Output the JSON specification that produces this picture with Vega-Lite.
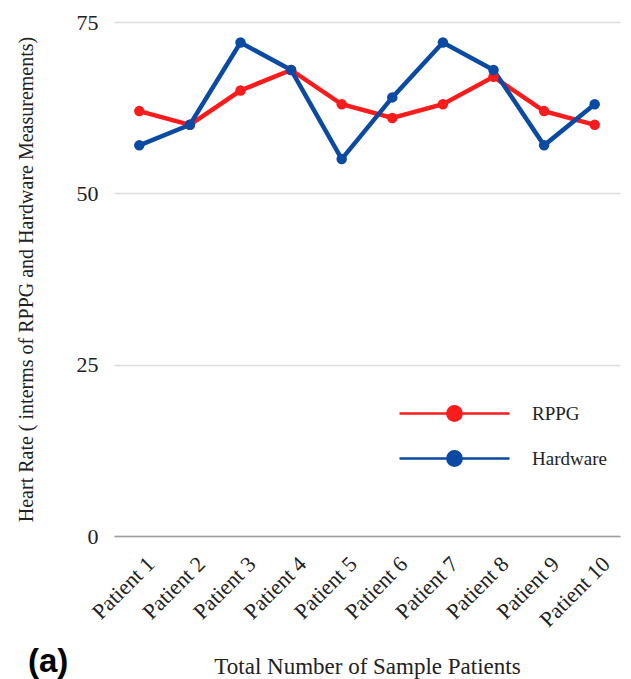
{
  "$schema": "https://vega.github.io/schema/vega-lite/v6.json",
  "width": 506,
  "height": 514,
  "autosize": {"type": "none"},
  "padding": {"left": 114, "top": 22, "right": 11, "bottom": 143},
  "background": "white",
  "title": {
    "text": "(a)",
    "orient": "bottom",
    "anchor": "start",
    "frame": "bounds",
    "offset": -33,
    "dx": 12,
    "font": "Liberation Sans",
    "fontSize": 33,
    "fontWeight": "bold",
    "color": "#000000"
  },
  "data": {
    "values": [
      {"patient": "Patient 1", "series": "RPPG", "hr": 62},
      {"patient": "Patient 2", "series": "RPPG", "hr": 60},
      {"patient": "Patient 3", "series": "RPPG", "hr": 65},
      {"patient": "Patient 4", "series": "RPPG", "hr": 68},
      {"patient": "Patient 5", "series": "RPPG", "hr": 63},
      {"patient": "Patient 6", "series": "RPPG", "hr": 61},
      {"patient": "Patient 7", "series": "RPPG", "hr": 63},
      {"patient": "Patient 8", "series": "RPPG", "hr": 67},
      {"patient": "Patient 9", "series": "RPPG", "hr": 62},
      {"patient": "Patient 10", "series": "RPPG", "hr": 60},
      {"patient": "Patient 1", "series": "Hardware", "hr": 57},
      {"patient": "Patient 2", "series": "Hardware", "hr": 60},
      {"patient": "Patient 3", "series": "Hardware", "hr": 72},
      {"patient": "Patient 4", "series": "Hardware", "hr": 68},
      {"patient": "Patient 5", "series": "Hardware", "hr": 55},
      {"patient": "Patient 6", "series": "Hardware", "hr": 64},
      {"patient": "Patient 7", "series": "Hardware", "hr": 72},
      {"patient": "Patient 8", "series": "Hardware", "hr": 68},
      {"patient": "Patient 9", "series": "Hardware", "hr": 57},
      {"patient": "Patient 10", "series": "Hardware", "hr": 63}
    ]
  },
  "config": {
    "view": {"stroke": null},
    "font": "Liberation Serif"
  },
  "encoding": {
    "x": {
      "field": "patient",
      "type": "ordinal",
      "sort": null,
      "scale": {"type": "point", "padding": 0.5},
      "axis": {
        "title": "Total Number of Sample Patients",
        "titleFont": "Liberation Serif",
        "titleFontSize": 23,
        "titleFontWeight": "normal",
        "titleColor": "#222222",
        "titlePadding": 25,
        "labelAngle": -45,
        "labelFont": "Liberation Serif",
        "labelFontSize": 22,
        "labelColor": "#222222",
        "labelPadding": 17,
        "labelOffset": 4,
        "ticks": false,
        "domainColor": "#9e9e9e",
        "domainWidth": 1.5,
        "grid": false
      }
    },
    "y": {
      "field": "hr",
      "type": "quantitative",
      "scale": {"domain": [0, 75], "nice": false},
      "axis": {
        "values": [0, 25, 50, 75],
        "title": "Heart Rate ( interms of RPPG and Hardware Measurements)",
        "titleFont": "Liberation Serif",
        "titleFontSize": 20,
        "titleFontWeight": "normal",
        "titleColor": "#222222",
        "titlePadding": 40,
        "labelFont": "Liberation Serif",
        "labelFontSize": 22,
        "labelColor": "#222222",
        "labelPadding": 16,
        "ticks": false,
        "domain": false,
        "gridColor": "#dcdcdc",
        "gridWidth": 1.5
      }
    },
    "color": {
      "field": "series",
      "type": "nominal",
      "sort": ["RPPG", "Hardware"],
      "scale": {"domain": ["RPPG", "Hardware"], "range": ["#fa1c1c", "#0b4aa2"]},
      "legend": {
        "title": null,
        "orient": "none",
        "legendX": 331,
        "legendY": 382,
        "padding": 0,
        "symbolType": "M-10,0H10M-1.3,0A1.3,1.3,0,1,0,1.3,0A1.3,1.3,0,1,0,-1.3,0Z",
        "symbolSize": 121,
        "symbolStrokeWidth": 2.5,
        "labelFont": "Liberation Serif",
        "labelFontSize": 19,
        "labelColor": "#222222",
        "labelOffset": 68,
        "rowPadding": 20,
        "encode": {
          "symbols": {
            "update": {
              "fill": {"scale": "color", "field": "value"},
              "stroke": {"scale": "color", "field": "value"},
              "fillOpacity": {"value": 1},
              "opacity": {"value": 1}
            }
          }
        }
      }
    }
  },
  "layer": [
    {"mark": {"type": "line", "strokeWidth": 4.5}},
    {"mark": {"type": "point", "filled": true, "size": 110, "opacity": 1}}
  ]
}
